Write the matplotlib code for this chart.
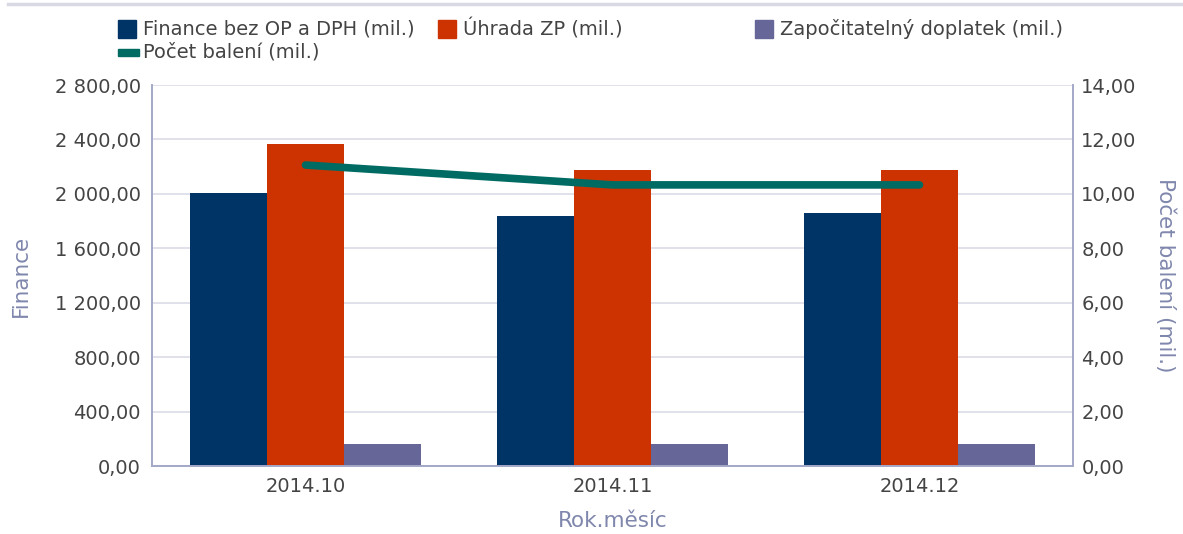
import matplotlib
matplotlib.use("Agg")
import matplotlib.pyplot as plt
from matplotlib.patches import Rectangle
from matplotlib.lines import Line2D
from matplotlib.ticker import FuncFormatter
import numpy as np

months = ["2014.10", "2014.11", "2014.12"]
finance = [2006, 1837, 1859]
uhrada = [2366, 2175, 2175]
doplatek = [162, 162, 162]
baleni = [11.06, 10.33, 10.33]

names = ["Finance bez OP a DPH (mil.)", "Úhrada ZP (mil.)",
         "Započitatelný doplatek (mil.)", "Počet balení (mil.)"]
colors = ["#003366", "#cc3300", "#666699", "#006b63"]

axis_col = "#a4a8c8"
grid_col = "#dcdce8"
tick_col = "#444444"
label_col = "#8087ad"


def fmt(v, pos=None):
    s = "{:,.2f}".format(v)
    return s.replace(",", " ").replace(".", ",")


fig = plt.figure(figsize=(11.83, 5.34), dpi=100)
ax = fig.add_axes([0.1285, 0.1273, 0.7785, 0.7135])
ax2 = ax.twinx()

x = np.arange(len(months))
w = 0.25
ax.bar(x - w, finance, w, color=colors[0], zorder=2)
ax.bar(x, uhrada, w, color=colors[1], zorder=2)
ax.bar(x + w, doplatek, w, color=colors[2], zorder=2)
ax2.plot(x, baleni, color=colors[3], lw=5.5, solid_capstyle="round", zorder=3)

ax.set_xlim(-0.5, 2.5)
ax.set_ylim(0, 2800)
ax2.set_ylim(0, 14)
ax.set_yticks(np.arange(0, 2801, 400))
ax2.set_yticks(np.arange(0, 14.1, 2))
ax.yaxis.set_major_formatter(FuncFormatter(fmt))
ax2.yaxis.set_major_formatter(FuncFormatter(fmt))
ax.set_xticks(x)
ax.set_xticklabels(months)

ax.grid(axis="y", color=grid_col, lw=1.2, zorder=0)
ax.set_axisbelow(True)
for a in (ax, ax2):
    for s in a.spines.values():
        s.set_color(axis_col)
        s.set_linewidth(1.2)
    a.spines["top"].set_visible(False)
    a.tick_params(length=0, labelsize=14, labelcolor=tick_col)
ax.tick_params(axis="y", pad=8)
ax2.tick_params(axis="y", pad=6)
ax.tick_params(axis="x", pad=8)

ax.set_ylabel("Finance", color=label_col, fontsize=15.5)
ax.yaxis.set_label_coords(-0.132, 0.5)
ax2.set_ylabel("Počet balení (mil.)", color=label_col, fontsize=15.5,
               rotation=270)
ax2.yaxis.set_label_coords(1.111, 0.5)
ax.set_xlabel("Rok.měsíc", color=label_col, fontsize=15.5)
ax.xaxis.set_label_coords(0.5, -0.118)

# legend drawn by hand to match the column layout
W, H = 1183.0, 534.0
leg = [(118, 29, 0), (438, 29, 1), (755, 29, 2), (118, 52, 3)]
for px, py, i in leg:
    if i == 3:
        fig.patches.append(Rectangle((px / W, 1 - (py + 4) / H), 21 / W, 7 / H,
                                     transform=fig.transFigure, color=colors[i]))
    else:
        fig.patches.append(Rectangle((px / W, 1 - (py + 9) / H), 18 / W, 18 / H,
                                     transform=fig.transFigure, color=colors[i]))
    fig.text((px + 25) / W, 1 - py / H, names[i], fontsize=14,
             color=tick_col, va="center", ha="left")

fig.lines.append(Line2D([8 / W, 1], [1 - 3.5 / H, 1 - 3.5 / H],
                        transform=fig.transFigure, color="#d8d9e2", lw=2.5))

fig.savefig("out.png", dpi=100)
